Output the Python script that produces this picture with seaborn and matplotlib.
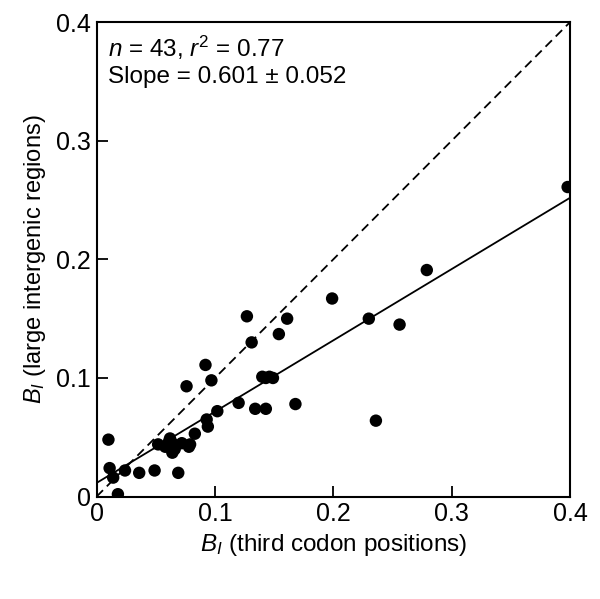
import matplotlib
matplotlib.use("Agg")
import matplotlib.pyplot as plt
import seaborn as sns
import numpy as np
import pandas as pd

# Data
bi_third = [0.010, 0.011, 0.014, 0.018, 0.024, 0.036, 0.049, 0.052, 0.058, 0.062,
            0.064, 0.064, 0.069, 0.072, 0.078, 0.079, 0.083, 0.076, 0.092, 0.097,
            0.093, 0.094, 0.102, 0.120, 0.127, 0.131, 0.154, 0.161, 0.199, 0.230,
            0.256, 0.140, 0.146, 0.149, 0.134, 0.143, 0.168, 0.236, 0.279, 0.398,
            0.066, 0.061, 0.143]
bi_large = [0.048, 0.024, 0.016, 0.002, 0.022, 0.020, 0.022, 0.044, 0.042, 0.049,
            0.045, 0.037, 0.020, 0.045, 0.042, 0.044, 0.053, 0.093, 0.111, 0.098,
            0.065, 0.059, 0.072, 0.079, 0.152, 0.130, 0.137, 0.150, 0.167, 0.150,
            0.145, 0.101, 0.101, 0.100, 0.074, 0.074, 0.078, 0.064, 0.191, 0.261,
            0.040, 0.046, 0.100]
fit_slope = 0.601
fit_intercept = 0.0115
ticks = [0, 0.1, 0.2, 0.3, 0.4]
tick_labels = ["0", "0.1", "0.2", "0.3", "0.4"]

sns.set_theme(style="white")
plt.rcParams['font.family'] = ['Liberation Sans', 'DejaVu Sans']
plt.rcParams['mathtext.fontset'] = 'custom'
plt.rcParams['mathtext.rm'] = 'Liberation Sans'
plt.rcParams['mathtext.it'] = 'Liberation Sans:italic'
plt.rcParams['text.color'] = 'black'
plt.rcParams['axes.labelcolor'] = 'black'

df = pd.DataFrame({"x": bi_third, "y": bi_large})

fig = plt.figure(figsize=(6.0, 5.99), dpi=100)
ax = fig.add_axes([0.161, 0.171, 0.789, 0.792])

lim = np.array([0, 0.4])
ax.plot(lim, lim, color="black", lw=1.3, ls=(0, (5, 3)))
ax.plot(lim, fit_intercept + fit_slope * lim, color="black", lw=1.3)
sns.scatterplot(data=df, x="x", y="y", ax=ax, color="black", s=80,
                edgecolor="none", zorder=3, legend=False)

ax.set_xlim(0, 0.4)
ax.set_ylim(0, 0.4)
ax.set_xticks(ticks)
ax.set_xticklabels(tick_labels)
ax.set_yticks(ticks)
ax.set_yticklabels(tick_labels)
ax.tick_params(direction="in", length=8, width=1.3, labelsize=18, colors="black",
               labelcolor="black", bottom=True, left=True, pad=4)
for sp in ax.spines.values():
    sp.set_visible(True)
    sp.set_color("black")
    sp.set_linewidth(1.5)

ax.set_xlabel(r"$B_I$ (third codon positions)", fontsize=17.5, labelpad=4, color="black")
ax.set_ylabel(r"$B_I$ (large intergenic regions)", fontsize=17, labelpad=6, color="black")

ax.text(0.025, 0.975, r"$n$ = 43, $r^2$ = 0.77" + "\n" + "Slope = 0.601 \u00b1 0.052",
        transform=ax.transAxes, ha="left", va="top", fontsize=17.5, linespacing=1.2,
        color="black")

fig.savefig("out.png", dpi=100)
